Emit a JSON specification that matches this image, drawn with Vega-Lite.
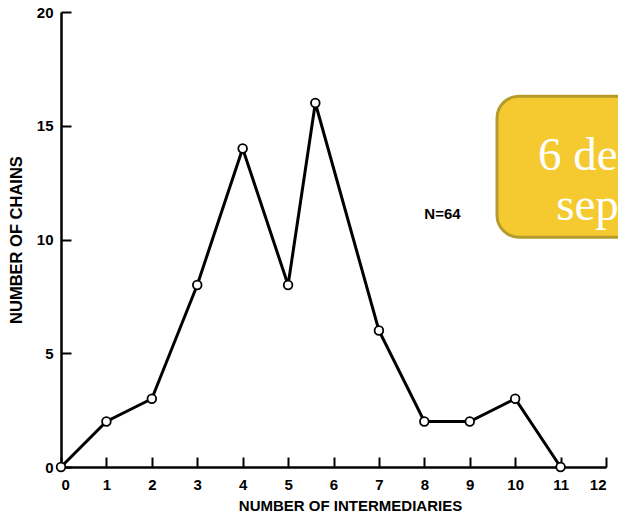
{
  "$schema": "https://vega.github.io/schema/vega-lite/v6.json",
  "autosize": {"type": "none"},
  "width": 545,
  "height": 455,
  "padding": {"left": 61, "top": 12, "right": 12, "bottom": 53},
  "background": "white",
  "config": {
    "view": {"stroke": null},
    "axis": {
      "domainColor": "black",
      "domainWidth": 2.5,
      "tickColor": "black",
      "tickWidth": 2,
      "tickSize": -10,
      "grid": false,
      "labelFont": "Liberation Sans",
      "labelFontWeight": "bold",
      "labelFontSize": 15,
      "labelColor": "black",
      "titleFont": "Liberation Sans",
      "titleFontWeight": "bold",
      "titleColor": "black"
    }
  },
  "datasets": {
    "chains": [
      {"intermediaries": 0, "chains": 0},
      {"intermediaries": 1, "chains": 2},
      {"intermediaries": 2, "chains": 3},
      {"intermediaries": 3, "chains": 8},
      {"intermediaries": 4, "chains": 14},
      {"intermediaries": 5, "chains": 8},
      {"intermediaries": 5.6, "chains": 16},
      {"intermediaries": 7, "chains": 6},
      {"intermediaries": 8, "chains": 2},
      {"intermediaries": 9, "chains": 2},
      {"intermediaries": 10, "chains": 3},
      {"intermediaries": 11, "chains": 0}
    ],
    "note": [{"x": 8.4, "y": 11.1, "label": "N=64"}],
    "box": [{"x": 9.6, "x2": 15.5, "y": 16.3, "y2": 10.1}],
    "boxtext": [{"x": 13.03, "y": 13.05, "label": "6 degrees of\nseparation"}]
  },
  "layer": [
    {
      "data": {"name": "chains"},
      "mark": {"type": "line", "color": "black", "strokeWidth": 3},
      "encoding": {
        "x": {
          "field": "intermediaries", "type": "quantitative",
          "scale": {"domain": [0, 12], "nice": false},
          "axis": {"values": [0,1,2,3,4,5,6,7,8,9,10,11,12], "title": "NUMBER OF INTERMEDIARIES", "titleFontSize": 15, "labelPadding": 20, "titlePadding": 6, "titleX": 289}
        },
        "y": {
          "field": "chains", "type": "quantitative",
          "scale": {"domain": [0, 20], "nice": false},
          "axis": {"values": [0,5,10,15,20], "title": "NUMBER OF CHAINS", "titleFontSize": 16.5, "labelPadding": 18, "titlePadding": 12}
        }
      }
    },
    {
      "data": {"name": "chains"},
      "mark": {"type": "point", "filled": false, "fill": "white", "fillOpacity": 1, "stroke": "black", "strokeWidth": 1.8, "size": 75, "opacity": 1},
      "encoding": {
        "x": {"field": "intermediaries", "type": "quantitative"},
        "y": {"field": "chains", "type": "quantitative"}
      }
    },
    {
      "data": {"name": "note"},
      "mark": {"type": "text", "font": "Liberation Sans", "fontWeight": "bold", "fontSize": 15, "color": "black", "align": "center", "baseline": "middle"},
      "encoding": {
        "x": {"field": "x", "type": "quantitative"},
        "y": {"field": "y", "type": "quantitative"},
        "text": {"field": "label"}
      }
    },
    {
      "data": {"name": "box"},
      "mark": {"type": "rect", "fill": "#F4CA30", "stroke": "#B59B2A", "strokeWidth": 3, "cornerRadius": 22, "clip": false},
      "encoding": {
        "x": {"field": "x", "type": "quantitative"},
        "x2": {"field": "x2"},
        "y": {"field": "y", "type": "quantitative"},
        "y2": {"field": "y2"}
      }
    },
    {
      "data": {"name": "boxtext"},
      "mark": {"type": "text", "font": "Liberation Serif", "fontSize": 47, "color": "white", "align": "center", "baseline": "alphabetic", "lineBreak": "\n", "lineHeight": 50},
      "encoding": {
        "x": {"field": "x", "type": "quantitative"},
        "y": {"field": "y", "type": "quantitative"},
        "text": {"field": "label"}
      }
    }
  ]
}
